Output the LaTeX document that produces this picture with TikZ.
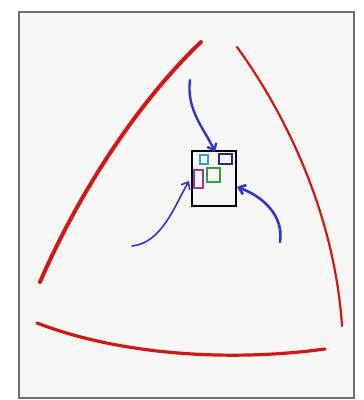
\documentclass[tikz,border=0pt]{standalone}
\usetikzlibrary{arrows.meta}
\definecolor{bg}{HTML}{F6F6F4}
\definecolor{frame}{HTML}{6E6E6E}
\definecolor{redink}{HTML}{D01818}
\definecolor{blueink}{HTML}{3434CC}
\definecolor{cyanink}{HTML}{3A9AB8}
\definecolor{navyink}{HTML}{2A2A80}
\definecolor{greenink}{HTML}{2EA040}
\definecolor{magink}{HTML}{A030A8}
\tikzset{
  redarc/.style={draw=redink, line cap=round},
  bluearrow/.style={draw=blueink, line width=2pt, line cap=round, -{Straight Barb[length=6pt,width=10pt]}},
  inner/.style={line width=1.5pt},
}
\begin{document}
\begin{tikzpicture}[x=1pt,y=-1pt]
\useasboundingbox (0,0) rectangle (364,400);
\fill[white] (0,0) rectangle (364,400);
\draw[frame, fill=bg, line width=1.5pt] (19,12) rectangle (354,398);
% red arcs
\draw[redarc, line width=4pt] (40,282) .. controls (80,190) and (140,100) .. (201,42);
\draw[redarc, line width=2.2pt] (237,47) .. controls (290,120) and (335,220) .. (342,326);
\draw[redarc, line width=3.2pt] (37,323) .. controls (120,355) and (230,362) .. (325,349);
% box
\coordinate (boxNW) at (192,151);
\coordinate (boxSE) at (236,206);
\draw[black, line width=1.8pt] (boxNW) rectangle (boxSE);
\draw[cyanink, inner] (200,155) rectangle (208,164);
\draw[navyink, inner] (219,154) rectangle (232,164);
\draw[greenink, inner] (207,168) rectangle (220,182);
\draw[magink, inner] (194,170) rectangle (203,188);
% arrows
\coordinate (t0) at (190,80);
\coordinate (t1) at (215,152);
\coordinate (l0) at (132,246);
\coordinate (l1) at (189,181);
\coordinate (r0) at (280,242);
\coordinate (r1) at (237,187);
\draw[bluearrow, line width=2.4pt] (t0) .. controls (186,110) and (205,130) .. (t1);
\draw[bluearrow, line width=1.6pt] (l0) .. controls (162,243) and (175,205) .. (l1);
\draw[bluearrow, line width=2.6pt] (r0) .. controls (284,215) and (262,196) .. (r1);
\end{tikzpicture}
\end{document}
